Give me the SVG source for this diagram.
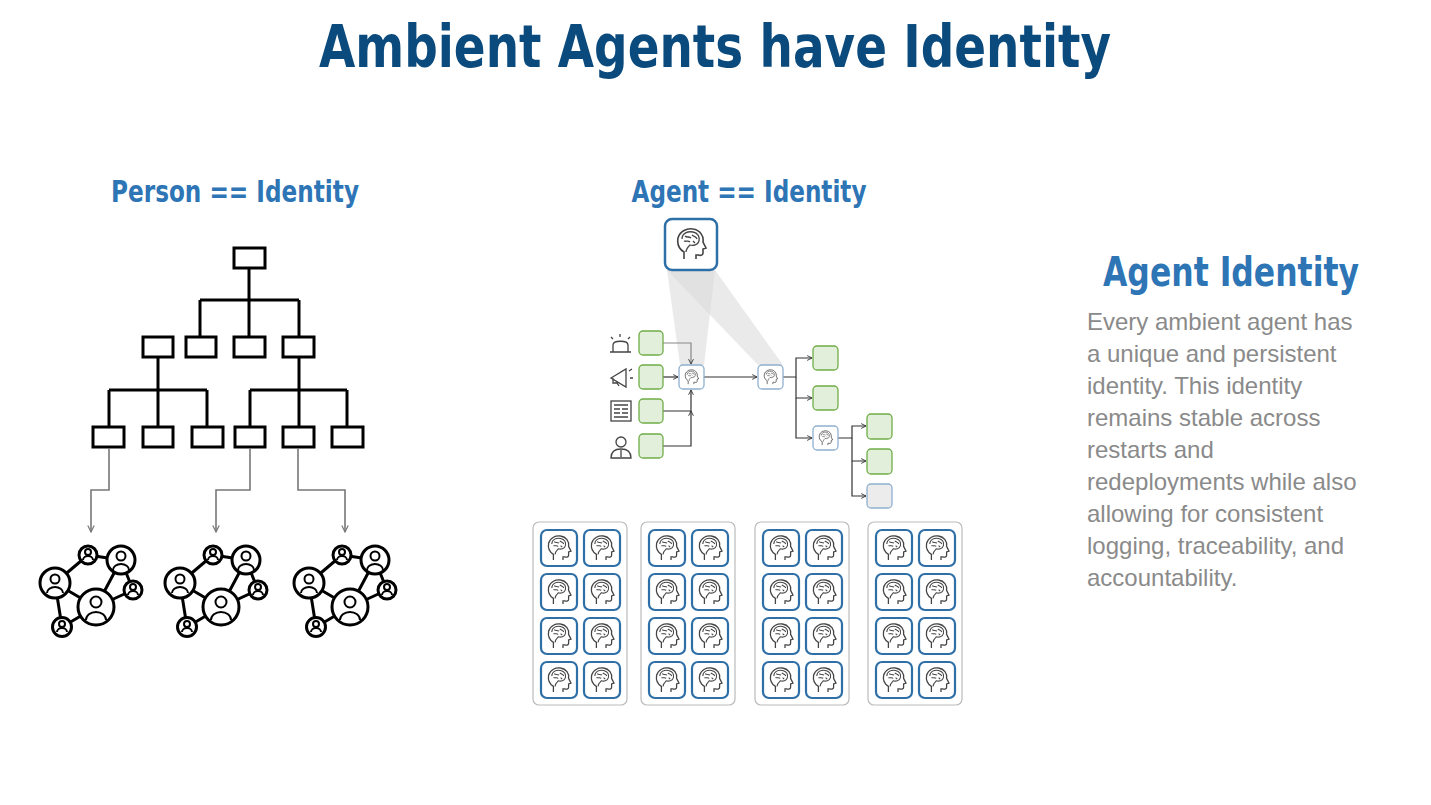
<svg xmlns="http://www.w3.org/2000/svg" xmlns:xlink="http://www.w3.org/1999/xlink" width="1431" height="805" viewBox="0 0 1431 805">
<style>
.ttl{font-family:"DejaVu Sans Condensed","DejaVu Sans",sans-serif;font-weight:bold;fill:#0b4a7d}
.sub{font-family:"DejaVu Sans Condensed","DejaVu Sans",sans-serif;font-weight:bold;fill:#2e75b6}
.body{font-family:"Liberation Sans",Arial,sans-serif;font-size:24px;fill:#8a8a8a}
.org{fill:#fff;stroke:#000;stroke-width:3}
.orgl{fill:none;stroke:#000;stroke-width:3}
.garr{fill:none;stroke:#777;stroke-width:1.6;marker-end:url(#ga)}
.net{fill:#fff;stroke:#000;stroke-width:3}
.tile{fill:#fff;stroke:#2e6fa7;stroke-width:2.2}
.cont{fill:#fff;stroke:#bbb;stroke-width:1.2}
.green{fill:#e2efda;stroke:#70ad47;stroke-width:1.3}
.gray{fill:#ececec;stroke:#8fb0d0;stroke-width:1.3}
.sn{fill:#fff;stroke:#8fb0d0;stroke-width:1.3}
.fl{fill:none;stroke:#333;stroke-width:1.2;marker-end:url(#ba)}
.flg{fill:none;stroke:#888;stroke-width:1.2;marker-end:url(#ba)}
.ic{fill:none;stroke:#444;stroke-width:1.3}
</style>
<defs>
<marker id="ga" viewBox="0 0 10 10" refX="9" refY="5" markerWidth="8" markerHeight="8" orient="auto" markerUnits="userSpaceOnUse"><path d="M1 1 L9 5 L1 9" fill="none" stroke="#777" stroke-width="1.5"/></marker>
<marker id="ba" viewBox="0 0 10 10" refX="9" refY="5" markerWidth="6" markerHeight="6" orient="auto" markerUnits="userSpaceOnUse"><path d="M1 1 L9 5 L1 9" fill="none" stroke="#333" stroke-width="1.5"/></marker>
<symbol id="head" viewBox="0 0 40 40">
<path d="M13 35 V28 C8 25 6 20 7 14 C9 7 16 4 22 5 C29 6 33 12 32 18 L35 24 L32 25 V29 C32 31 30 32 27 31 H25 V35" fill="none" stroke="#444" stroke-width="1.6"/>
<path d="M11 15 C11 9 17 7 22 8 C27 9 29 13 28 17 C27 21 22 22 19 21 C17 23 15 25 15 28 M14 12 C16 14 18 12 20 14 M21 11 C23 13 25 12 26 15 M13 17 C15 18 17 16 19 18 M22 17 L24 19" fill="none" stroke="#444" stroke-width="1.3"/>
</symbol>
<g id="netg">
<g class="orgl"><path d="M88 555 L121 560 M88 555 L55 583 M121 560 L96 607 M121 560 L133 590 M55 583 L96 607 M55 583 L62 627 M96 607 L133 590 M62 627 L96 607"/></g>
<g class="net"><circle cx="88" cy="555" r="9"/><circle cx="121" cy="560" r="14"/><circle cx="55" cy="583" r="15"/><circle cx="96" cy="607" r="18"/><circle cx="133" cy="590" r="9"/><circle cx="62" cy="627" r="9.5"/></g>
<g fill="none" stroke="#000" stroke-width="2">
<circle cx="88" cy="552" r="3"/><path d="M83 560 a5 4 0 0 1 10 0"/>
<circle cx="121" cy="556" r="4.5"/><path d="M113 570 a8 6 0 0 1 16 0"/>
<circle cx="55" cy="579" r="4.5"/><path d="M47 593 a8 6 0 0 1 16 0"/>
<circle cx="96" cy="602" r="5.5"/><path d="M86 620 a10 8 0 0 1 20 0"/>
<circle cx="133" cy="587" r="3"/><path d="M128 595 a5 4 0 0 1 10 0"/>
<circle cx="62" cy="624" r="3"/><path d="M57 632 a5 4 0 0 1 10 0"/>
</g>
</g>
<g id="col">
<rect class="cont" x="0" y="0" width="94" height="183" rx="6"/>
<g id="tr"><rect class="tile" x="8" y="8" width="36" height="36" rx="6"/><use href="#head" x="10" y="9" width="32" height="34"/><rect class="tile" x="51" y="8" width="36" height="36" rx="6"/><use href="#head" x="53" y="9" width="32" height="34"/></g>
<use href="#tr" y="44"/><use href="#tr" y="88"/><use href="#tr" y="132"/>
</g>
</defs>

<text class="ttl" x="715" y="67" font-size="58" text-anchor="middle" textLength="792" lengthAdjust="spacingAndGlyphs">Ambient Agents have Identity</text>
<text class="sub" x="235" y="202" font-size="30" text-anchor="middle" textLength="248" lengthAdjust="spacingAndGlyphs">Person == Identity</text>
<text class="sub" x="749" y="202" font-size="30" text-anchor="middle" textLength="235" lengthAdjust="spacingAndGlyphs">Agent == Identity</text>
<text class="sub" x="1231" y="286" font-size="40" text-anchor="middle" textLength="256" lengthAdjust="spacingAndGlyphs">Agent Identity</text>
<g class="body">
<text x="1087" y="330">Every ambient agent has</text>
<text x="1087" y="362">a unique and persistent</text>
<text x="1087" y="394">identity. This identity</text>
<text x="1087" y="426">remains stable across</text>
<text x="1087" y="458">restarts and</text>
<text x="1087" y="490">redeployments while also</text>
<text x="1087" y="522">allowing for consistent</text>
<text x="1087" y="554">logging, traceability, and</text>
<text x="1087" y="586">accountability.</text>
</g>

<g id="orgchart">
<path class="orgl" d="M249 268 V300 M200 300 H299 M200 300 V337 M249 300 V337 M299 300 V337 M158 357 V390 M109 390 H207 M109 390 V427 M158 390 V427 M207 390 V427 M299 357 V390 M250 390 H347 M250 390 V427 M299 390 V427 M347 390 V427"/>
<rect class="org" x="234" y="248" width="31" height="20"/>
<rect class="org" x="143" y="337" width="30" height="20"/><rect class="org" x="186" y="337" width="30" height="20"/><rect class="org" x="234" y="337" width="31" height="20"/><rect class="org" x="283" y="337" width="31" height="20"/>
<rect class="org" x="93" y="427" width="31" height="20"/><rect class="org" x="143" y="427" width="30" height="20"/><rect class="org" x="192" y="427" width="31" height="20"/><rect class="org" x="235" y="427" width="30" height="20"/><rect class="org" x="283" y="427" width="31" height="20"/><rect class="org" x="332" y="427" width="31" height="20"/>
<path class="garr" d="M109 448 V490 H91 V532"/>
<path class="garr" d="M250 448 V490 H216 V532"/>
<path class="garr" d="M298 448 V490 H345 V532"/>
</g>
<g id="net1"><use href="#netg"/></g>
<g id="net2"><use href="#netg" x="125"/></g>
<g id="net3"><use href="#netg" x="254"/></g>

<g id="flow">
<polygon points="667,270 715,270 704,365 680,365" fill="#d9d9d9" opacity="0.55"/>
<polygon points="667,270 715,270 783,365 758,365" fill="#d9d9d9" opacity="0.55"/>
<g id="bigAgent"><rect x="665" y="219" width="52" height="51" rx="7" fill="#fff" stroke="#2e6fa7" stroke-width="2.5"/><use href="#head" x="671" y="223" width="40" height="42"/></g>
<g id="connectors">
<path class="flg" d="M663 343 H691 V364"/>
<path class="fl" d="M663 377 H678"/>
<path class="fl" d="M663 411 H691 V390"/>
<path class="fl" d="M663 446 H691 V411"/>
<path class="fl" d="M704 377 H757"/>
<path class="fl" d="M783 377 H796 V358 H812"/>
<path class="fl" d="M796 377 V398 H812"/>
<path class="fl" d="M796 398 V438 H812"/>
<path class="fl" d="M838 438 H852 V426 H866"/>
<path class="fl" d="M852 438 V461 H866"/>
<path class="fl" d="M852 461 V496 H866"/>
</g>
<rect class="green" x="639" y="331" width="24" height="24" rx="4"/>
<rect class="green" x="639" y="365" width="24" height="24" rx="4"/>
<rect class="green" x="639" y="399" width="24" height="24" rx="4"/>
<rect class="green" x="639" y="434" width="24" height="24" rx="4"/>
<rect class="green" x="813" y="346" width="25" height="24" rx="4"/>
<rect class="green" x="813" y="386" width="25" height="24" rx="4"/>
<rect class="green" x="867" y="414" width="25" height="25" rx="4"/>
<rect class="green" x="867" y="449" width="25" height="25" rx="4"/>
<rect class="gray" x="867" y="484" width="25" height="24" rx="4"/>
<g id="agent1"><rect class="sn" x="679" y="365" width="25" height="24" rx="4"/><use href="#head" x="682" y="367" width="19" height="20"/></g>
<g id="agent2"><rect class="sn" x="758" y="365" width="25" height="24" rx="4"/><use href="#head" x="761" y="367" width="19" height="20"/></g>
<g id="agent3"><rect class="sn" x="813" y="426" width="25" height="24" rx="4"/><use href="#head" x="816" y="428" width="19" height="20"/></g>
<g id="icons" class="ic">
<path d="M610 352 H631 M613 352 V345 C613 340 628 340 628 345 V352 M620 334 V337 M611 337 L613 339 M630 337 L628 339"/>
<path d="M611 378 L626 369 V387 Z M613 378 V383 H617 L619 386 M629 371 L632 369 M630 378 H633"/>
<rect x="611" y="401" width="20" height="20"/><path d="M614 405 H628 M614 409 H620 M622 409 H628 M614 413 H620 M622 413 H628 M614 417 H628"/>
<circle cx="621" cy="442" r="5"/><path d="M611 458 C611 451 616 449 621 449 C626 449 631 451 631 458 Z M621 450 V457"/>
</g>
</g>

<g id="agentpool">
<use href="#col" x="533" y="522"/>
<use href="#col" x="641" y="522"/>
<use href="#col" x="755" y="522"/>
<use href="#col" x="868" y="522"/>
</g>
</svg>
